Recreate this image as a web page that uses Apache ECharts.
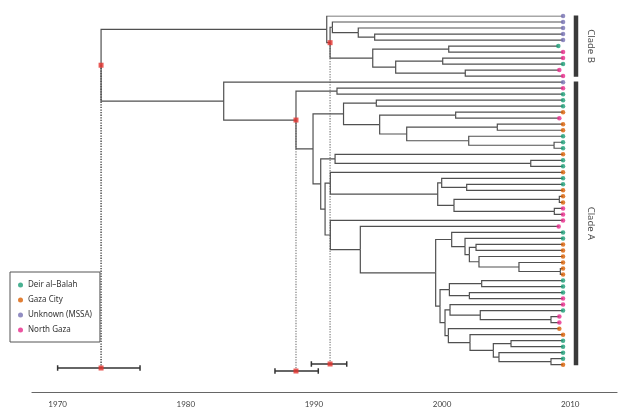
<!DOCTYPE html>
<html><head><meta charset="utf-8">
<script src="https://cdn.jsdelivr.net/npm/echarts@6/dist/echarts.min.js"></script>
<style>html,body{margin:0;padding:0;background:#fff}#c{width:622px;height:413px}</style>
</head><body><div id="c"></div>
<script>
// ---- data ----
const groupNames = ['Deir al–Balah', 'Gaza City', 'Unknown (MSSA)', 'North Gaza'];
const groupCodes = ['D', 'G', 'U', 'N'];
const groupColors = ['#1b9e77', '#d95f02', '#7570b3', '#e7298a'];

// tips in top-to-bottom order (t1..t59)
const tipGroup = [
  'U','U','U','U','U','D','N','N','D','N','N',
  'U','N','D','D','D','G','N','G','G','D',
  'D','D','G','D','D','G','D','D','G','G',
  'G','N','N','N','N','D','D','G','G','G',
  'G','G','G','D','D','D','N','N','D','N',
  'N','G','G','D','D','D','D','G'
];
const tipDate = [
  2009.44,2009.44,2009.44,2009.44,2009.44,2009.07,2009.44,2009.44,2009.44,2009.15,2009.44,
  2009.44,2009.44,2009.44,2009.44,2009.44,2009.44,2009.15,2009.44,2009.44,2009.44,
  2009.44,2009.44,2009.44,2009.44,2009.44,2009.44,2009.44,2009.44,2009.44,2009.44,
  2009.44,2009.44,2009.44,2009.44,2009.10,2009.44,2009.44,2009.44,2009.44,2009.44,
  2009.44,2009.44,2009.44,2009.44,2009.44,2009.44,2009.44,2009.44,2009.44,2009.15,
  2009.15,2009.15,2009.44,2009.44,2009.44,2009.44,2009.44,2009.44
];

// internal nodes: name, date, children
const nodeNames = ['root','B0','N2','N3','N4','N5','N6','N7','N8','N9','N10',
  'A0','N11','N12','N13','N14','N15','N16','N17','N18','N19','N20','N21',
  'N22','N23','N24','N25','N26','N27','N28','N29','N30','N31','N32','N33','N34','N35',
  'N36','N37','N38','N39','N40','N41','N42','N43','N44','N45','N46','N56',
  'N47','N48','N49','N50','N51','N52','N53','N54','N55'];
const nodeDates = [1973.39,1991.00,1991.26,1991.44,1993.46,1994.74,1994.59,2000.52,1996.38,2000.05,2001.81,
  1982.96,1988.60,1991.80,1989.93,1992.31,1994.87,1995.13,2001.06,1997.24,2004.31,2002.08,2008.74,
  1990.53,1991.65,2006.92,1990.87,1991.28,1999.66,1999.97,2001.92,2000.93,2009.15,2008.76,1991.28,1993.62,1999.50,
  2000.75,2001.79,2002.13,2002.65,2002.88,2006.00,2009.23,1999.84,2000.57,2003.09,2002.13,2000.23,
  2000.62,2002.98,2008.50,2000.49,2002.18,2004.00,2005.38,2004.44,2008.50];
const nodeChildren = [
  ['B0','A0'],['t1','N2'],['N3','N6'],['t2','N4'],['t3','N5'],['t4','t5'],['N7','N8'],['t6','t7'],['N9','N10'],['t8','t9'],['t10','t11'],
  ['t12','N11'],['N12','N13'],['t13','t14'],['N14','N22'],['N15','N16'],['t15','t16'],['N17','N18'],['t17','t18'],['N19','N20'],['t19','t20'],['t21','N21'],['t22','t23'],
  ['N23','N25'],['t24','N24'],['t25','t26'],['N26','N33'],['t27','N27'],['N28','N30'],['t28','N29'],['t29','t30'],['N31','N32'],['t31','t32'],['t33','t34'],['t35','N34'],['t36','N35'],['N36','N43'],
  ['t37','N37'],['t38','N38'],['N39','N40'],['t39','t40'],['t41','N41'],['t42','N42'],['t43','t44'],['N44','N56'],['N45','N46'],['t45','t46'],['t47','t48'],['N47','N50'],
  ['t49','N48'],['t50','N49'],['t51','t52'],['t53','N51'],['t54','N52'],['N53','N54'],['t55','t56'],['t57','N55'],['t58','t59']
];

// dated MRCA nodes with 95% intervals
const mrcaNodes = ['root', 'N2', 'N11'];
const mrcaLow  = [1970.0, 1989.8, 1986.96];
const mrcaHigh = [1976.43, 1992.56, 1990.34];
const mrcaRow  = [58.55, 57.88, 59.05];

const cladeNames = ['Clade B', 'Clade A'];
const cladeFirstTip = [1, 12];
const cladeLastTip = [11, 59];
const cladeBarDate = 2010.45;
const cladeLabelDate = 2011.62;

const tickYears = [1970, 1980, 1990, 2000, 2010];

// ---- build ----
const nodeIndex = {};
nodeNames.forEach((n, i) => nodeIndex[n] = i);
function pos(id) {
  if (id[0] === 't') { const k = +id.slice(1) - 1; return [tipDate[k], k]; }
  const i = nodeIndex[id];
  const ch = nodeChildren[i];
  const a = pos(ch[0]), b = pos(ch[ch.length - 1]);
  return [nodeDates[i], (a[1] + b[1]) / 2];
}
const branches = [];
nodeNames.forEach((n) => {
  const p = pos(n);
  nodeChildren[nodeIndex[n]].forEach(c => {
    const q = pos(c);
    branches.push({ coords: [[p[0], p[1]], [p[0], q[1]], [q[0], q[1]]] });
  });
});
const dotted = mrcaNodes.map((n, i) => { const p = pos(n); return { coords: [[p[0], p[1]], [p[0], mrcaRow[i]]], lineStyle: { color: i === 0 ? '#333' : '#888' } }; });
const errBars = [];
const capH = 0.45;
mrcaNodes.forEach((n, i) => {
  const r = mrcaRow[i];
  errBars.push({ coords: [[mrcaLow[i], r], [mrcaHigh[i], r]] });
  errBars.push({ coords: [[mrcaLow[i], r - capH], [mrcaLow[i], r + capH]] });
  errBars.push({ coords: [[mrcaHigh[i], r - capH], [mrcaHigh[i], r + capH]] });
});
const redPts = [];
mrcaNodes.forEach((n, i) => { const p = pos(n); redPts.push(p); redPts.push([p[0], mrcaRow[i]]); });
const cladeBars = cladeNames.map((c, i) => ({ coords: [[cladeBarDate, cladeFirstTip[i] - 1 - 0.1], [cladeBarDate, cladeLastTip[i] - 1 + 0.1]] }));
const cladeLabels = cladeNames.map((c, i) => ({ name: c, value: [cladeLabelDate, (cladeFirstTip[i] + cladeLastTip[i]) / 2 - 1] }));

const tipSeries = groupNames.map((g, gi) => ({
  name: g, type: 'scatter', symbol: 'circle', symbolSize: 4.5, z: 5,
  itemStyle: { color: groupColors[gi] },
  data: tipGroup.map((c, k) => c === groupCodes[gi] ? [tipDate[k], k] : null).filter(d => d)
}));

const chart = echarts.init(document.getElementById('c'), null, { renderer: 'canvas' });
chart.setOption({
  animation: false,
  backgroundColor: '#fff',
  grid: { left: 32, right: 5, top: 16, bottom: 21 },
  legend: {
    data: groupNames, orient: 'vertical', left: 10, top: 272,
    padding: [8, 8, 7, 8], itemGap: 5, itemWidth: 5, itemHeight: 5, icon: 'circle',
    borderColor: '#555', borderWidth: 1,
    textStyle: { fontSize: 8, lineHeight: 10, color: '#333', fontFamily: 'Noto Sans' }
  },
  xAxis: {
    type: 'value', min: 1968, max: 2013.65,
    splitLine: { show: false },
    axisLine: { onZero: false, lineStyle: { color: '#666', width: 1.2 } },
    axisTick: { show: false },
    axisLabel: { customValues: tickYears, formatter: v => String(v), fontSize: 8, color: '#444', margin: 8, fontFamily: 'Lato' }
  },
  yAxis: { type: 'value', inverse: true, min: 0, max: 62.54, show: false },
  series: [
    { type: 'lines', coordinateSystem: 'cartesian2d', polyline: true, silent: true, z: 1,
      lineStyle: { type: 'dotted', width: 1.3, color: '#888', opacity: 1 }, data: dotted },
    { type: 'lines', coordinateSystem: 'cartesian2d', polyline: true, silent: true, z: 2,
      lineStyle: { color: '#505050', width: 1.2, opacity: 1 }, data: branches },
    { type: 'lines', coordinateSystem: 'cartesian2d', polyline: true, silent: true, z: 2,
      lineStyle: { color: '#333', width: 1.5, opacity: 1 }, data: errBars },
    { type: 'lines', coordinateSystem: 'cartesian2d', polyline: true, silent: true, z: 2,
      lineStyle: { color: '#3a3a3a', width: 4.5, opacity: 1, cap: 'butt' }, data: cladeBars },
    ...tipSeries,
    { type: 'scatter', symbol: 'rect', symbolSize: 5, z: 6, silent: true,
      itemStyle: { color: '#e5322d' }, data: redPts },
    { type: 'scatter', symbolSize: 0, silent: true,
      label: { show: true, position: 'inside', rotate: -90, formatter: '{b}', fontSize: 9.5, color: '#222', fontFamily: 'Noto Sans' },
      data: cladeLabels }
  ]
});
</script></body></html>
